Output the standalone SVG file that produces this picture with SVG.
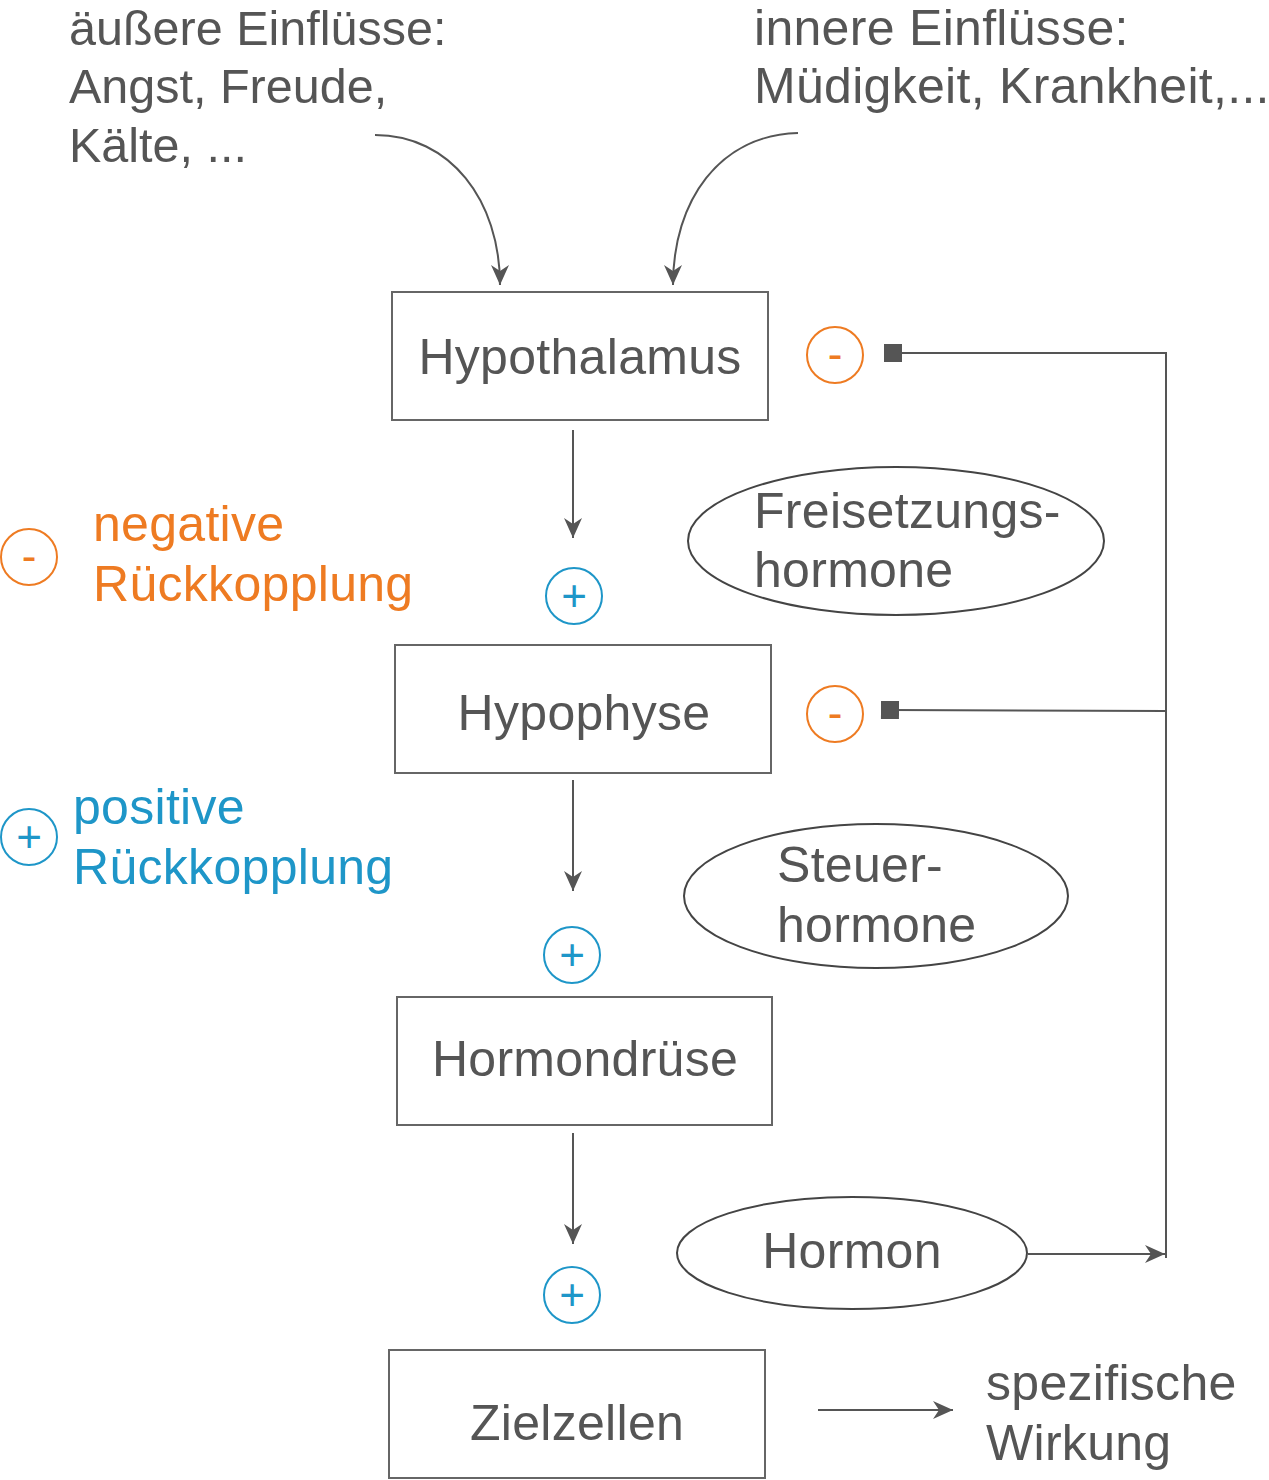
<svg xmlns="http://www.w3.org/2000/svg" width="1269" height="1480" viewBox="0 0 1269 1480">
<style>
text{font-family:"Liberation Sans",Arial,sans-serif;fill:#555}
.t{font-size:50px;letter-spacing:0.3px}
.tl{font-size:48.5px}
.c{text-anchor:middle}
.box{fill:#fff;stroke:#666;stroke-width:2}
.ell{fill:#fff;stroke:#444;stroke-width:2}
.ln{fill:none;stroke:#555;stroke-width:2}
.or{fill:#EE7B22}
.bl{fill:#1E96C8}
.co{fill:none;stroke:#EE7B22;stroke-width:2}
.cb{fill:none;stroke:#1E96C8;stroke-width:2}
.sign{font-size:44px;text-anchor:middle}
</style>
<defs>
<marker id="ah" markerUnits="userSpaceOnUse" markerWidth="22" markerHeight="18" refX="20" refY="9" orient="auto">
<path d="M0,0 L20,9 L0,18 L6,9 Z" fill="#555"/>
</marker>
<marker id="sq" markerUnits="userSpaceOnUse" markerWidth="20" markerHeight="20" refX="10" refY="10" orient="auto">
<rect x="1" y="1" width="18" height="18" fill="#555"/>
</marker>
</defs>

<g id="labels-top">
<text class="tl" x="69" y="45">äußere Einflüsse:</text>
<text class="tl" x="69" y="103">Angst, Freude,</text>
<text class="tl" x="69" y="162">Kälte, ...</text>
<text class="t" x="754" y="45">innere Einflüsse:</text>
<text class="t" x="754" y="103">Müdigkeit, Krankheit,...</text>
</g>

<g id="legend">
<circle class="co" cx="29" cy="557" r="28"/>
<text class="sign or" x="29" y="571">-</text>
<text class="t or" x="93" y="541">negative</text>
<text class="t or" x="93" y="601">Rückkopplung</text>
<circle class="cb" cx="29" cy="837" r="28"/>
<text class="sign bl" x="29" y="852">+</text>
<text class="t bl" x="73" y="824">positive</text>
<text class="t bl" x="73" y="884">Rückkopplung</text>
</g>

<g id="connectors">
<path class="ln" d="M375,135 C450,135 500,200 500,285" marker-end="url(#ah)"/>
<path class="ln" d="M798,133 C720,135 673,200 673,285" marker-end="url(#ah)"/>
<path class="ln" d="M573,430 L573,538" marker-end="url(#ah)"/>
<path class="ln" d="M573,780 L573,891" marker-end="url(#ah)"/>
<path class="ln" d="M573,1133 L573,1244" marker-end="url(#ah)"/>
<path class="ln" d="M1028,1254 L1165,1254" marker-end="url(#ah)"/>
<path class="ln" d="M1166,1258 L1166,353 L893,353" marker-end="url(#sq)"/>
<path class="ln" d="M1166,711 L890,710" marker-end="url(#sq)"/>
<path class="ln" d="M818,1410 L953,1410" marker-end="url(#ah)"/>
</g>

<g id="hypothalamus">
<rect class="box" x="392" y="292" width="376" height="128"/>
<text class="t c" x="580" y="374">Hypothalamus</text>
</g>
<g id="hypophyse">
<rect class="box" x="395" y="645" width="376" height="128"/>
<text class="t c" x="584" y="730">Hypophyse</text>
</g>
<g id="hormondruese">
<rect class="box" x="397" y="997" width="375" height="128"/>
<text class="t c" x="585" y="1076">Hormondrüse</text>
</g>
<g id="zielzellen">
<rect class="box" x="389" y="1350" width="376" height="128"/>
<text class="t c" x="577" y="1440">Zielzellen</text>
</g>

<g id="freisetzungshormone">
<ellipse class="ell" cx="896" cy="541" rx="208" ry="74"/>
<text class="t" x="754" y="528">Freisetzungs-</text>
<text class="t" x="754" y="587">hormone</text>
</g>
<g id="steuerhormone">
<ellipse class="ell" cx="876" cy="896" rx="192" ry="72"/>
<text class="t" x="777" y="882">Steuer-</text>
<text class="t" x="777" y="942">hormone</text>
</g>
<g id="hormon">
<ellipse class="ell" cx="852" cy="1253" rx="175" ry="56"/>
<text class="t c" x="852" y="1268">Hormon</text>
</g>

<g id="wirkung">
<text class="t" x="986" y="1400">spezifische</text>
<text class="t" x="986" y="1460">Wirkung</text>
</g>

<g id="signs">
<circle class="co" cx="835" cy="355" r="28"/>
<text class="sign or" x="835" y="369">-</text>
<circle class="co" cx="835" cy="714" r="28"/>
<text class="sign or" x="835" y="728">-</text>
<circle class="cb" cx="574" cy="596" r="28"/>
<text class="sign bl" x="574" y="611">+</text>
<circle class="cb" cx="572" cy="955" r="28"/>
<text class="sign bl" x="572" y="970">+</text>
<circle class="cb" cx="572" cy="1295" r="28"/>
<text class="sign bl" x="572" y="1310">+</text>
</g>
</svg>
